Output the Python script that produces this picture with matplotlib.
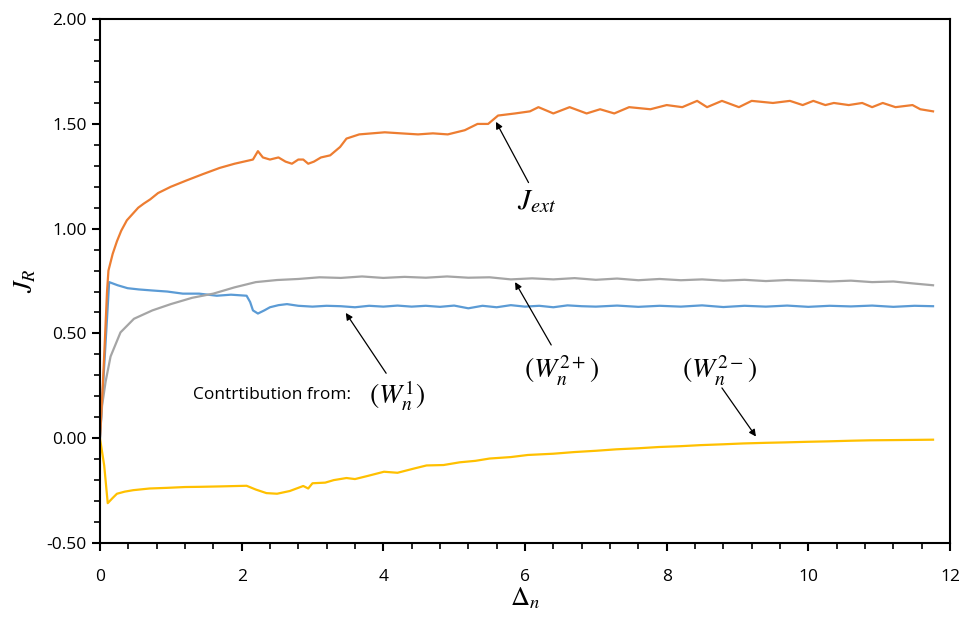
import matplotlib
matplotlib.use('Agg')
import matplotlib.pyplot as plt
from matplotlib.ticker import MultipleLocator, FuncFormatter

plt.rcParams['font.family'] = ['Open Sans', 'DejaVu Sans']
plt.rcParams['mathtext.fontset'] = 'stix'

# series
x_ext = [0, 0.04, 0.07, 0.1, 0.12, 0.18, 0.24, 0.3, 0.38, 0.46, 0.54, 0.62, 0.71, 0.82, 1.0,
         1.22, 1.45, 1.69, 1.9, 2.16, 2.23, 2.3, 2.4, 2.52, 2.62, 2.71, 2.8, 2.87, 2.94, 3.02,
         3.12, 3.25, 3.39, 3.48, 3.66, 4.02, 4.25, 4.49, 4.7, 4.91, 5.15, 5.33, 5.48, 5.62, 5.86,
         6.07, 6.19, 6.4, 6.63, 6.87, 7.06, 7.26, 7.47, 7.77, 8.0, 8.22, 8.43, 8.57, 8.78, 9.02,
         9.2, 9.5, 9.74, 9.92, 10.07, 10.24, 10.36, 10.57, 10.76, 10.9, 11.05, 11.23, 11.47, 11.58, 11.76]
j_ext = [0, 0.25, 0.47, 0.7, 0.80, 0.88, 0.94, 0.99, 1.04, 1.07, 1.10, 1.12, 1.14, 1.17, 1.20,
         1.23, 1.26, 1.29, 1.31, 1.33, 1.37, 1.34, 1.33, 1.34, 1.32, 1.31, 1.33, 1.33, 1.31, 1.32,
         1.34, 1.35, 1.39, 1.43, 1.45, 1.46, 1.455, 1.45, 1.455, 1.45, 1.47, 1.50, 1.50, 1.54, 1.55,
         1.56, 1.58, 1.55, 1.58, 1.55, 1.57, 1.55, 1.58, 1.57, 1.59, 1.58, 1.61, 1.58, 1.61, 1.58,
         1.61, 1.60, 1.61, 1.59, 1.61, 1.59, 1.60, 1.59, 1.60, 1.58, 1.60, 1.58, 1.59, 1.57, 1.56]

x_w1 = [0, 0.13, 0.25, 0.39, 0.55, 0.74, 0.95, 1.17, 1.4, 1.65, 1.85, 2.07, 2.12, 2.16, 2.23,
        2.32, 2.4, 2.52, 2.64, 2.8, 3.0, 3.2, 3.4, 3.6, 3.8, 4.0, 4.2, 4.4, 4.6, 4.8,
        5.0, 5.2, 5.4, 5.6, 5.8, 6.0, 6.2, 6.4, 6.6, 6.8, 7.0, 7.3, 7.6, 7.9, 8.2,
        8.5, 8.8, 9.1, 9.4, 9.7, 10.0, 10.3, 10.6, 10.9, 11.2, 11.5, 11.76]
w1 = [0, 0.745, 0.73, 0.716, 0.71, 0.705, 0.70, 0.69, 0.69, 0.68, 0.685, 0.68, 0.65, 0.61, 0.595,
      0.61, 0.625, 0.635, 0.64, 0.632, 0.628, 0.632, 0.63, 0.625, 0.632, 0.628, 0.633, 0.628, 0.632, 0.627,
      0.633, 0.62, 0.632, 0.625, 0.635, 0.628, 0.632, 0.625, 0.634, 0.63, 0.628, 0.633, 0.627, 0.632, 0.628,
      0.634, 0.626, 0.632, 0.628, 0.633, 0.627, 0.632, 0.629, 0.633, 0.627, 0.632, 0.63]

x_w2p = [0, 0.03, 0.08, 0.15, 0.29, 0.48, 0.74, 1.0, 1.3, 1.6, 1.9, 2.2, 2.5, 2.8, 3.1,
         3.4, 3.7, 4.0, 4.3, 4.6, 4.9, 5.2, 5.5, 5.8, 6.1, 6.4, 6.7, 7.0, 7.3, 7.6,
         7.9, 8.2, 8.5, 8.8, 9.1, 9.4, 9.7, 10.0, 10.3, 10.6, 10.9, 11.2, 11.5, 11.76]
w2p = [0, 0.155, 0.27, 0.39, 0.505, 0.57, 0.61, 0.64, 0.67, 0.69, 0.72, 0.745, 0.755, 0.76, 0.768,
       0.765, 0.772, 0.765, 0.77, 0.766, 0.772, 0.766, 0.768, 0.758, 0.763, 0.758, 0.764, 0.756, 0.762, 0.754,
       0.76, 0.754, 0.758, 0.752, 0.756, 0.75, 0.755, 0.752, 0.748, 0.752, 0.745, 0.748, 0.738, 0.73]

x_w2m = [0, 0.06, 0.11, 0.18, 0.24, 0.35, 0.47, 0.7, 0.94, 1.2, 1.41, 1.7, 2.07, 2.2, 2.35,
         2.5, 2.68, 2.87, 2.94, 3.0, 3.18, 3.3, 3.48, 3.6, 3.78, 4.01, 4.2, 4.43, 4.61, 4.85,
         5.08, 5.3, 5.5, 5.8, 6.04, 6.4, 6.7, 7.0, 7.29, 7.6, 7.89, 8.2, 8.48, 8.8, 9.08,
         9.4, 9.67, 10.0, 10.28, 10.6, 10.87, 11.2, 11.5, 11.76]
w2m = [0, -0.13, -0.31, -0.285, -0.265, -0.255, -0.248, -0.24, -0.237, -0.233, -0.232, -0.23, -0.227, -0.245, -0.262,
       -0.265, -0.252, -0.228, -0.24, -0.215, -0.212, -0.2, -0.19, -0.195, -0.18, -0.16, -0.165, -0.145, -0.13, -0.128,
       -0.115, -0.108, -0.097, -0.09, -0.08, -0.074, -0.066, -0.06, -0.053, -0.048, -0.042, -0.038, -0.033, -0.029, -0.025,
       -0.022, -0.02, -0.017, -0.015, -0.012, -0.01, -0.009, -0.008, -0.007]

fig = plt.figure(figsize=(9.61, 6.18), dpi=100)
ax = fig.add_axes([0.104, 0.1214, 0.8846, 0.8476])

ax.plot(x_w1, w1, color='#5B9BD5', lw=1.6)
ax.plot(x_w2p, w2p, color='#A5A5A5', lw=1.6)
ax.plot(x_w2m, w2m, color='#FFC000', lw=1.6)
ax.plot(x_ext, j_ext, color='#ED7D31', lw=1.6)

ax.set_xlim(0, 12)
ax.set_ylim(-0.5, 2.0)
ax.xaxis.set_major_locator(MultipleLocator(2))
ax.xaxis.set_minor_locator(MultipleLocator(0.4))
ax.yaxis.set_major_locator(MultipleLocator(0.5))
ax.yaxis.set_minor_locator(MultipleLocator(0.1))
ax.yaxis.set_major_formatter(FuncFormatter(lambda v, p: '%.2f' % v))
ax.tick_params(which='major', direction='out', length=6, width=1.5, labelsize=12.5, colors='black')
ax.tick_params(which='minor', direction='out', length=4, width=1.2)
ax.tick_params(axis='x', pad=13)
for s in ax.spines.values():
    s.set_linewidth(1.5)

ax.set_xlabel(r'$\Delta_n$', fontsize=19, labelpad=0)
ax.set_ylabel(r'$J_R$', fontsize=19, labelpad=6)

arrow = dict(arrowstyle='-|>', color='black', lw=0.9, mutation_scale=10, shrinkA=0, shrinkB=0)

ax.annotate('', xy=(5.59, 1.51), xytext=(6.05, 1.22), arrowprops=arrow)
ax.text(6.16, 1.13, r'$J_{ext}$', fontsize=21, ha='center', va='center')

ax.annotate('', xy=(5.86, 0.745), xytext=(6.37, 0.445), arrowprops=arrow)
ax.text(6.52, 0.32, r'$(W_n^{2+})$', fontsize=20, ha='center', va='center')

ax.annotate('', xy=(9.26, 0.008), xytext=(8.78, 0.24), arrowprops=arrow)
ax.text(8.75, 0.32, r'$(W_n^{2-})$', fontsize=20, ha='center', va='center')

ax.annotate('', xy=(3.47, 0.598), xytext=(4.04, 0.31), arrowprops=arrow)
ax.text(1.31, 0.205, 'Contrtibution from:', fontsize=12.5, ha='left', va='center')
ax.text(3.8, 0.205, r'$(W_n^1)$', fontsize=20, ha='left', va='center')

fig.savefig('out.png', dpi=100)
